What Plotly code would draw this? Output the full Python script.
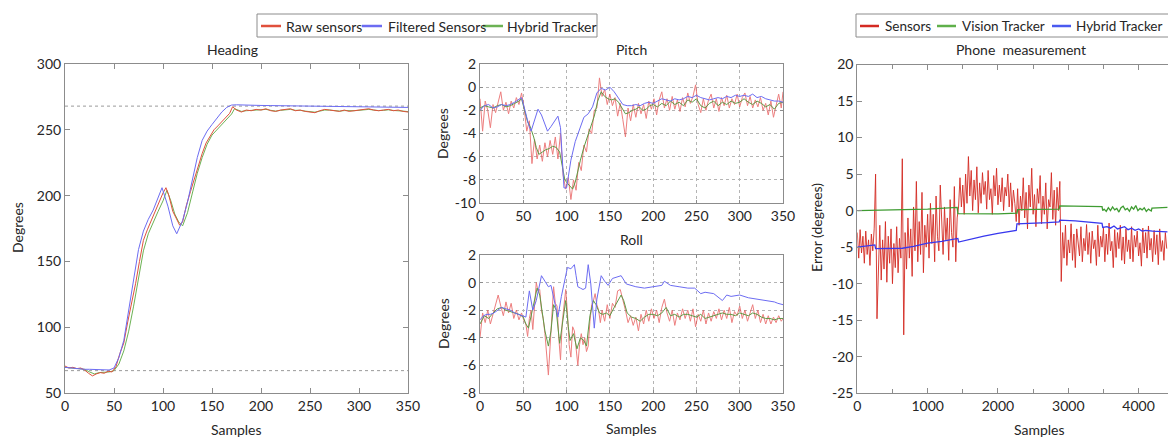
import plotly.graph_objects as go

W, H = 1168, 439
FONT = "Lato"
TXT = "#262626"
FRAME = "#8c8c8c"

# ---------------- Heading (samples 0-350) ----------------
head_filt_x = list(range(0, 96, 5)) + [99, 105, 110, 114] + list(range(120, 181, 5)) + list(range(190, 351, 10))
head_filtered = [69.5, 69, 68.5, 68.5, 68, 68, 68, 67.5, 67.5, 67.5, 69, 77, 90, 114, 138, 159, 173, 182, 189, 199,
                 206, 192, 177, 171,
                 181, 195, 213, 229, 242, 249, 254, 259, 263.5, 267, 268.8, 269, 268.8,
                 268.6, 268.5, 268.4, 268.3, 268.2, 268.1, 268, 267.9, 267.8, 267.7, 267.6, 267.5, 267.4, 267.3, 267.2, 267.1, 267]

head_raw_x = list(range(0, 101, 4)) + [103, 106, 110, 114, 117, 120, 124, 128, 132, 136, 140, 144, 148, 152, 156, 160, 164, 168, 171] + list(range(175, 351, 5))
head_raw = [70.5, 69, 69.5, 68.5, 69, 67.5, 65, 63, 64.5, 65.5, 65, 66.5, 66, 70, 80, 88, 104, 118, 133, 150, 166, 174, 181, 189, 195, 202,
            206, 200, 188, 182, 177.5, 180, 193, 203, 213, 222, 232, 240, 245, 250, 253, 256, 259, 262.5, 267.5,
            265, 263.5, 265, 264.5, 265.5, 265, 266, 264.5, 264, 265, 265.5, 266, 264.5, 265, 264, 263.5, 263, 264.5,
            265.5, 265, 264.5, 264, 265, 264, 264.5, 265, 265.5, 266, 265, 264.5, 265, 265.5, 264.5, 265, 264, 263.5]

head_hyb_x = list(range(0, 101, 5)) + [104, 108, 112, 116] + list(range(120, 171, 5)) + [173, 175] + list(range(180, 351, 5))
head_hybrid = [69.5, 69, 69, 68.5, 68, 66, 64.5, 65.5, 65.5, 66, 67, 72, 82, 97, 116, 138, 158, 171, 180, 188, 196,
               204, 196, 186, 180,
               177, 187, 203, 217, 229, 239, 246, 250, 254, 258, 262,
               266, 265.5,
               264, 264.5, 265, 265, 265.2, 265.5, 264.8, 264.2, 264.8, 265.3, 265.5, 264.8, 264.8, 264.2, 263.8, 263.4,
               264.2, 265, 265, 264.6, 264.2, 264.6, 264.3, 264.5, 264.8, 265.2, 265.5, 265, 264.6, 264.8, 265.2, 264.7,
               264.7, 264.2, 263.8]

head_ref_levels = [268, 67]

# ---------------- Pitch ----------------
pitch_filt_x = [0, 5, 10, 15, 20, 25, 30, 35, 40, 45, 48, 52, 56, 59, 63, 67, 71, 75, 78, 82, 86, 90, 93, 95, 97, 100,
                105, 110, 115, 120, 125, 130, 135, 140, 145, 150, 155, 160, 165, 170] + list(range(175, 351, 5))
pitch_filtered = [-2.0, -1.6, -1.5, -1.8, -1.7, -1.5, -1.6, -1.5, -1.3, -1.0, -0.9, -2.0, -3.2, -3.8, -2.8, -1.9, -2.4,
                  -3.2, -3.8, -3.4, -3.0, -2.5, -3.5, -6.0, -8.7, -8.7, -6.3, -4.7, -3.6, -2.6, -2.3, -1.7, -0.5, -0.1,
                  -0.25, 0.0, -0.4, -1.0, -1.5, -1.6,
                  -1.6, -1.5, -1.6, -1.4, -1.3, -1.4, -1.2, -1.0, -1.1, -1.2, -1.0, -1.1, -1.0, -0.8, -0.9, -0.7, -0.9,
                  -1.0, -1.1, -1.0, -0.9, -1.0, -0.8, -0.9, -0.7, -0.8, -0.7, -0.8, -0.6, -0.9, -0.8, -1.0, -1.1, -1.2,
                  -1.2, -1.3]

pitch_hyb_x = [0, 5, 10, 15, 20, 25, 30, 35, 40, 45, 48, 52, 55, 58, 62, 65, 68, 72, 76, 80, 84, 88, 92, 95, 98, 101,
               104, 107, 110, 113, 116, 120, 124, 128, 132, 136, 140, 144, 148, 152, 156, 160, 164, 168, 172, 176, 180,
               184, 188, 192, 196] + list(range(200, 351, 5))
pitch_hybrid = [-1.8, -1.6, -1.7, -1.8, -1.6, -1.5, -1.7, -1.6, -1.4, -1.2, -1.0, -2.2, -3.0, -3.4, -4.3, -5.2, -5.8,
                -5.6, -5.4, -5.3, -5.1, -5.2, -5.6, -6.8, -8.0, -8.3, -8.6, -8.8, -8.2, -7.2, -6.3, -5.2, -4.3, -3.4,
                -2.5, -1.2, -0.4, -0.8, -1.0, -1.1, -1.0, -1.3, -1.8, -2.3, -2.2, -2.0, -1.9, -1.7, -2.0, -1.9, -1.6,
                -1.5, -1.7, -1.4, -1.6, -1.2, -1.5, -1.3, -1.6, -1.1, -1.3, -1.0, -1.6, -1.8, -1.4, -1.2, -1.6, -1.3,
                -1.5, -1.2, -1.4, -1.3, -1.0, -1.3, -1.5, -1.2, -1.4, -1.7, -1.5, -1.9, -1.4, -1.3]

pitch_raw_x = list(range(0, 349, 3)) + [350]
pitch_raw = [-1.0, -3.8, -1.2, -2.0, -3.5, -1.5, -2.2, -1.4, -0.4, -2.0,
             -1.3, -2.3, -1.2, -1.8, -0.9, -1.5, -0.5, -1.8, -3.8, -2.9,
             -6.6, -4.5, -6.2, -5.0, -6.4, -4.8, -6.0, -4.6, -5.8, -4.3,
             -6.2, -4.0, -7.6, -8.8, -7.8, -9.7, -8.0, -8.9, -6.5, -7.2,
             -5.0, -5.6, -3.6, -4.0, -2.0, -1.8, 0.8, -0.8, -0.2, -1.5,
             -0.6, -1.6, -0.9, -2.5, -1.4, -2.8, -4.3, -1.8, -2.9, -1.5,
             -2.6, -1.4, -2.3, -1.5, -2.7, -1.2, -1.9, -1.0, -2.4, -1.1,
             -0.4, -1.8, -1.0, -2.0, -0.8, -1.9, -1.1, -2.1, -0.9, -1.7,
             -0.5, -1.4, -0.8, 0.2, -1.5, -2.2, -1.0, -2.0, -1.1, -0.6,
             -1.8, -1.0, -2.1, -0.9, -1.6, -0.7, -1.8, -1.0, -1.5, -0.6,
             -1.7, -0.9, -0.5, -1.6, -0.8, -1.8, -1.1, -1.7, -0.9, -2.0,
             -1.4, -2.4, -1.2, -2.6, -1.5, -0.6, -1.8, -0.4]

# ---------------- Roll ----------------
roll_filt_x = [0, 4, 8, 12, 16, 20, 25, 30, 35, 40, 45, 50, 53, 57, 61, 65, 68, 71, 75, 79, 82, 86, 90, 94, 98, 101,
               105, 109, 111, 113, 116, 119, 122, 125, 128, 130, 132, 135, 140, 144, 148, 153, 159, 163, 169, 175, 180,
               190, 200, 210, 213, 220, 230, 240, 248, 255, 260, 270, 280, 285, 290, 300, 310, 320, 330, 340, 344, 350]
roll_filtered = [-2.7, -2.4, -2.3, -2.3, -2.2, -2.0, -1.8, -1.9, -2.0, -2.2, -2.3, -2.4, -2.5, -0.6, -2.0, -1.3, -0.5,
                 0.5, 0.1, -0.3, -0.2, -1.4, -2.5, -1.0, 0.1, 1.1, 1.0, 1.3, 0.5, -0.3, -0.4, -0.5, -0.4, 1.3, -0.1,
                 -1.5, -3.3, -1.2, 0.5, 0.1, -0.2, 0.3, 0.4, 0.5, -0.1, -0.2, -0.3, -0.4, -0.3, -0.2, 0.1, -0.2, -0.3,
                 -0.4, -0.4, -0.8, -0.7, -0.8, -1.3, -0.9, -1.0, -0.9, -1.1, -1.2, -1.3, -1.4, -1.5, -1.6]

roll_hyb_x = [0, 5, 10, 15, 20, 25, 30, 35, 40, 45,
              50, 53, 56, 60, 63, 66, 69, 72, 75, 79, 82, 85, 88, 92, 95, 99, 102, 104, 108, 112, 116, 120, 123, 127,
              131, 134, 138, 142, 146, 150,
              155, 160, 163, 166, 170] + list(range(175, 351, 5))
roll_hybrid = [-3.0, -2.4, -2.6, -2.2, -1.9, -1.8, -2.0, -2.1, -2.2, -2.3,
               -2.5, -3.0, -3.3, -2.2, -1.3, -0.4, -0.9, -2.3, -3.5, -4.6, -3.5, -1.6, -2.0, -4.4, -3.2, -1.3, -3.2,
               -4.2, -3.7, -4.8, -4.0, -4.2, -4.6, -2.4, -1.3, -1.6, -2.2, -2.3, -2.2, -2.4,
               -1.8, -1.2, -0.9, -1.3, -2.2,
               -2.5, -2.6, -2.8, -2.5, -2.3, -2.3, -2.4, -2.2, -1.8, -2.4, -2.3, -2.5, -2.3, -2.3, -2.4, -2.5, -2.3,
               -2.6, -2.5, -2.4, -2.3, -2.2, -2.3, -2.3, -2.4, -2.2, -2.3, -2.4, -2.2, -2.3, -2.5, -2.6, -2.6, -2.7,
               -2.6, -2.6]

roll_raw_x = list(range(0, 52, 3)) + list(range(53, 140, 2)) + list(range(141, 349, 3)) + [350]
roll_raw = [-4.0, -2.2, -2.9, -2.0, -3.0, -2.3, -1.8, -0.9, -1.7, -2.4, -1.4, -2.2, -1.5, -2.6, -2.0, -2.7, -2.2, -2.8,
            -3.0, -3.9, -2.6, -2.0, -3.4, -1.6, 0.0, -0.6, -0.5, -2.0, -2.6, -3.7, -5.2, -6.7, -4.6, -2.0, -0.3, -1.5,
            -1.7, -4.0, -5.6, -2.9, -1.5, -0.5, -2.2, -4.5, -5.4, -3.2, -3.5, -4.8, -6.0, -4.5, -3.7, -4.5, -4.0, -5.0,
            -4.6, -2.8, -1.6, -1.3, -0.8, -1.6, -2.0, -2.9,
            -2.0, -2.8, -1.6, -2.6, -1.5, -1.8, -0.6, -0.5, -1.2, -2.0,
            -2.9, -2.4, -3.1, -2.5, -3.5, -2.3, -3.0, -2.0, -2.8, -1.9,
            -2.6, -2.0, -2.9, -1.8, -1.2, -2.2, -2.8, -2.0, -3.1, -2.2,
            -2.7, -1.9, -2.6, -2.0, -2.8, -1.9, -3.2, -2.3, -2.8, -2.0,
            -3.0, -2.2, -2.8, -2.1, -2.6, -1.9, -2.7, -2.0, -2.6, -1.8,
            -2.9, -2.1, -2.4, -1.7, -2.6, -2.0, -2.8, -2.2, -1.6, -2.6,
            -2.0, -2.9, -2.3, -3.0, -2.4, -3.0, -2.5, -2.9, -2.4, -2.8,
            -2.6]

# ---------------- Phone measurement (samples 0-4400) ----------------
phone_sens_x = list(range(0, 4401, 20))
phone_sensors = [
    # 0-240
    -3.0, -6.5, -2.6, -5.8, -3.5, -7.2, -2.8, -6.0, -4.0, -7.5, -3.2, -5.5, -2.5,
    # 260-280 spike
    5.0, -14.8,
    # 300-620
    -7.0, -2.0, -9.5, -4.0, -8.0, -1.5, -9.8, -3.5, -7.2, -2.5, -10.0, -4.5, -7.8, -2.2, -8.5, -3.8, -6.5,
    # 640-660 spike
    7.1, -17.0,
    # 680-1000
    -3.0, -8.0, -1.0, -6.5, -2.5, -9.0, 0.5, -5.5, 4.0, -7.0, -1.5, -6.0, 2.5, -8.5, -2.0, -5.0, -0.5,
    # 1020-1440
    -6.5, 1.0, -4.5, -0.5, -7.0, 2.0, -3.5, -5.5, 3.5, -2.0, -6.0, 0.5, -4.0, -1.0, -6.8, 1.5, -3.0, -5.0, 3.3,
    -7.0, -1.0, 0.5,
    # 1460-2240
    4.5, 0.5, 3.5, -0.5, 5.0, 1.0, 7.4, 2.0, 5.5, 0.0, 4.2, 1.5, 6.0, -0.3, 3.8, 1.0, 5.2, 2.2, 4.0, 0.2,
    5.5, 1.5, 3.0, -0.5, 4.8, 2.0, 5.8, 0.8, 3.5, 1.2, 4.5, 0.0, 3.2, 2.0, 5.0, 0.5, 3.8, -0.2, 2.8, 1.0,
    # 2260-2860
    -1.5, 3.0, -2.0, 2.0, 0.0, 4.5, -1.0, 2.5, -2.5, 3.5, 0.5, 5.8, -0.5, 2.2, -2.2, 3.0, 1.0, 4.8, -1.8, 2.0,
    -0.5, 3.8, -2.5, 1.5, 0.5, 5.2, -1.2, 2.8, -2.0, 3.2, 0.0,
    # 2880-2900 spike
    4.0, -9.7,
    # 2920-4400
    -3.0, -6.5, -2.0, -7.5, -4.0, -5.8, -1.8, -6.8, -3.2, -7.8, -2.5, -5.0, -6.2, -2.2, -7.0, -3.8, -5.5, -1.9, -6.0, -3.0,
    -7.2, -2.8, -5.2, -4.0, -7.5, -2.0, -6.3, -3.5, -5.0, -2.4, -7.0, -3.2, -6.0, -1.7, -5.5, -4.2, -7.8, -2.6, -6.4, -3.0,
    -5.2, -2.0, -6.8, -3.6, -7.3, -2.5, -5.6, -4.0, -6.6, -2.2, -7.0, -3.4, -5.0, -2.8, -6.2, -4.4, -7.6, -2.4, -5.8, -3.0,
    -6.5, -2.1, -5.4, -3.8, -7.0, -2.7, -6.0, -3.3, -7.4, -2.5, -5.6, -4.1, -6.8, -3.0, -5.2]

phone_vis_x = [0, 500, 1000, 1420, 1430, 2000, 2270, 2280, 2870, 2880, 3480, 3490] + list(range(3510, 4171, 30)) + [4180, 4190, 4410]
phone_vision = [0.0, 0.1, 0.2, 0.45, -0.4, -0.45, -0.35, 0.15, 0.2, 0.65, 0.55, 0.0,
                0.2, -0.1, 0.4, 0.0, 0.5, 0.1, 0.3, -0.2, 0.4, 0.6, 0.1, 0.3, -0.1, 0.5, 0.2, 0.7, 0.0, 0.3, 0.1,
                0.4, -0.1, 0.2, 0.0,
                -0.05, 0.35, 0.45]

phone_hyb_x = [0, 100, 200, 250, 260, 300, 450, 640, 800, 1000, 1200, 1430, 1440, 1600, 1800, 2000, 2260, 2270, 2500,
               2700, 2870, 2880, 3100, 3300, 3480, 3490, 3550, 3600, 3650, 3700, 3750, 3800, 3850, 3900, 3950, 4000,
               4050, 4100, 4200, 4300, 4410]
phone_hybrid = [-5.0, -4.9, -4.75, -4.7, -5.2, -5.2, -5.2, -5.15, -4.9, -4.45, -4.2, -3.8, -4.3, -3.9, -3.5, -3.1,
                -2.7, -1.8, -1.75, -1.65, -1.55, -1.3, -1.4, -1.55, -1.75, -2.3, -2.2, -2.4, -2.1, -2.5, -2.3, -2.2,
                -2.6, -2.4, -2.7, -2.5, -2.8, -2.7, -2.8, -2.85, -2.9]

# tick labels
head_x_ticks = [0, 50, 100, 150, 200, 250, 300, 350]
head_y_ticks = [50, 100, 150, 200, 250, 300]
pitch_y_ticks = [-10, -8, -6, -4, -2, 0, 2]
roll_y_ticks = [-8, -6, -4, -2, 0, 2]
phone_x_ticks = [0, 1000, 2000, 3000, 4000]
phone_y_ticks = [-25, -20, -15, -10, -5, 0, 5, 10, 15, 20]

pairs = [(head_filt_x, head_filtered), (head_raw_x, head_raw), (head_hyb_x, head_hybrid),
         (pitch_filt_x, pitch_filtered), (pitch_hyb_x, pitch_hybrid), (pitch_raw_x, pitch_raw),
         (roll_filt_x, roll_filtered), (roll_hyb_x, roll_hybrid), (roll_raw_x, roll_raw),
         (phone_sens_x, phone_sensors), (phone_vis_x, phone_vision), (phone_hyb_x, phone_hybrid)]
for i, (a, b) in enumerate(pairs):
    assert len(a) == len(b), (i, len(a), len(b))


def px(x):
    return x / W


def py(y):
    return 1 - y / H


RED1, BLUE1, GREEN1 = "#e0503c", "#6c6cf2", "#6cb254"
RED2, GREEN2, BLUE2 = "#d42a22", "#3f9c32", "#3838ee"

fig = go.Figure()


def line(x, y, color, xa, ya, name, width=1.0, opacity=1.0):
    fig.add_trace(go.Scatter(x=x, y=y, mode="lines", name=name,
                             line=dict(color=color, width=width), opacity=opacity,
                             xaxis=xa, yaxis=ya, showlegend=False, hoverinfo="skip"))


# Heading
line(head_hyb_x, head_hybrid, GREEN1, "x", "y", "Hybrid Tracker")
line(head_raw_x, head_raw, RED1, "x", "y", "Raw sensors")
line(head_filt_x, head_filtered, BLUE1, "x", "y", "Filtered Sensors")
# Pitch
line(pitch_raw_x, pitch_raw, "#e64848", "x2", "y2", "Raw sensors", 1.0, 0.7)
line(pitch_hyb_x, pitch_hybrid, "#5f9a45", "x2", "y2", "Hybrid Tracker")
line(pitch_filt_x, pitch_filtered, BLUE1, "x2", "y2", "Filtered Sensors")
# Roll
line(roll_raw_x, roll_raw, "#e64848", "x3", "y3", "Raw sensors", 1.0, 0.7)
line(roll_hyb_x, roll_hybrid, "#5f9a45", "x3", "y3", "Hybrid Tracker")
line(roll_filt_x, roll_filtered, BLUE1, "x3", "y3", "Filtered Sensors")
# Phone
line(phone_sens_x, phone_sensors, RED2, "x4", "y4", "Sensors", 0.9)
line(phone_vis_x, phone_vision, GREEN2, "x4", "y4", "Vision Tracker", 1.3)
line(phone_hyb_x, phone_hybrid, BLUE2, "x4", "y4", "Hybrid Tracker", 1.3)

# dotted reference levels on heading panel
for lv in head_ref_levels:
    fig.add_shape(type="line", xref="x domain", yref="y", x0=0, x1=1, y0=lv, y1=lv,
                  line=dict(color="#9a9a9a", width=1, dash="dot"), layer="below")


def ax(**kw):
    d = dict(showline=True, linecolor=FRAME, linewidth=1, mirror="ticks", ticks="inside", ticklen=5,
             tickcolor=FRAME, tickfont=dict(family=FONT, size=14, color=TXT), showgrid=False,
             zeroline=False, fixedrange=True, automargin=False)
    d.update(kw)
    return d


grid = dict(showgrid=True, gridcolor="#b4b4b4", griddash="dot", gridwidth=1)


def lab(v):
    return [str(t) for t in v]


fig.update_layout(
    width=W, height=H, margin=dict(l=0, r=0, t=0, b=0, pad=0, autoexpand=False),
    paper_bgcolor="white", plot_bgcolor="white",
    font=dict(family=FONT, size=14, color=TXT),
    showlegend=False,
    xaxis=ax(domain=[px(65), px(408)], range=[0, 350], anchor="y", tickvals=head_x_ticks, ticktext=lab(head_x_ticks)),
    yaxis=ax(domain=[py(393), py(64)], range=[50, 300], anchor="x", tickvals=head_y_ticks, ticktext=lab(head_y_ticks)),
    xaxis2=ax(domain=[px(480), px(783)], range=[0, 350], anchor="y2", tickvals=head_x_ticks,
              ticktext=lab(head_x_ticks), ticklen=3, **grid),
    yaxis2=ax(domain=[py(203), py(64)], range=[-10, 2], anchor="x2", tickvals=pitch_y_ticks,
              ticktext=lab(pitch_y_ticks), ticklen=3, **grid),
    xaxis3=ax(domain=[px(480), px(783)], range=[0, 350], anchor="y3", tickvals=head_x_ticks,
              ticktext=lab(head_x_ticks), ticklen=3, **grid),
    yaxis3=ax(domain=[py(393), py(255)], range=[-8, 2], anchor="x3", tickvals=roll_y_ticks,
              ticktext=lab(roll_y_ticks), ticklen=3, **grid),
    xaxis4=ax(domain=[px(857.3), 1.0], range=[0, 4418], anchor="y4", tickvals=phone_x_ticks,
              ticktext=lab(phone_x_ticks),
              minor=dict(dtick=500, tick0=0, ticks="inside", ticklen=4, tickcolor=FRAME, showgrid=False)),
    yaxis4=ax(domain=[py(393.3), py(64.5)], range=[-25, 20], anchor="x4", tickvals=phone_y_ticks,
              ticktext=lab(phone_y_ticks), mirror=False),
)

ann = []


def text(s, x, y, size=14, xanchor="center", angle=0):
    ann.append(dict(text=s, x=px(x), y=py(y), xref="paper", yref="paper", showarrow=False,
                    xanchor=xanchor, yanchor="middle", textangle=angle,
                    font=dict(family=FONT, size=size, color=TXT)))


# panel titles
text("Heading", 232, 49)
text("Pitch", 631, 49)
text("Roll", 631, 239)
text("Phone  measurement", 1021, 49)
# axis titles
text("Degrees", 17, 228, angle=-90)
text("Samples", 236, 429)
text("Degrees", 443, 134, angle=-90)
text("Degrees", 443, 324, angle=-90)
text("Samples", 631, 428)
text("Error (degrees)", 816, 228, angle=-90)
text("Samples", 1039, 429)

# legends (drawn as boxes, swatches and labels)
shapes = []


def box(x0, y0, x1, y1):
    shapes.append(dict(type="rect", xref="paper", yref="paper", x0=px(x0), x1=px(x1), y0=py(y1), y1=py(y0),
                       line=dict(color="#8c8c8c", width=1), fillcolor="white", layer="above"))


def swatch(x0, x1, y, color):
    shapes.append(dict(type="line", xref="paper", yref="paper", x0=px(x0), x1=px(x1), y0=py(y), y1=py(y),
                       line=dict(color=color, width=2.5), layer="above"))


box(257, 14, 597, 37)
swatch(261, 281, 26, RED1)
text("Raw sensors", 284, 26, xanchor="left")
swatch(362, 382, 26, BLUE1)
text("Filtered Sensors", 386, 26, xanchor="left")
swatch(483, 503, 26, GREEN1)
text("Hybrid Tracker", 505, 26, xanchor="left")

box(856, 14, 1185, 37)
swatch(860, 879, 26, RED2)
text("Sensors", 883, 26, size=13.5, xanchor="left")
swatch(937, 956, 26, "#5fb04a")
text("Vision Tracker", 960, 26, size=13.5, xanchor="left")
swatch(1052, 1071, 26, "#4a5af0")
text("Hybrid Tracker", 1074, 26, size=13.5, xanchor="left")

fig.update_layout(annotations=ann)
for s in shapes:
    fig.add_shape(**s)

fig.write_html("out.html", config={"displayModeBar": False},
               post_script="document.body.style.margin='0';document.body.style.overflow='hidden';")
